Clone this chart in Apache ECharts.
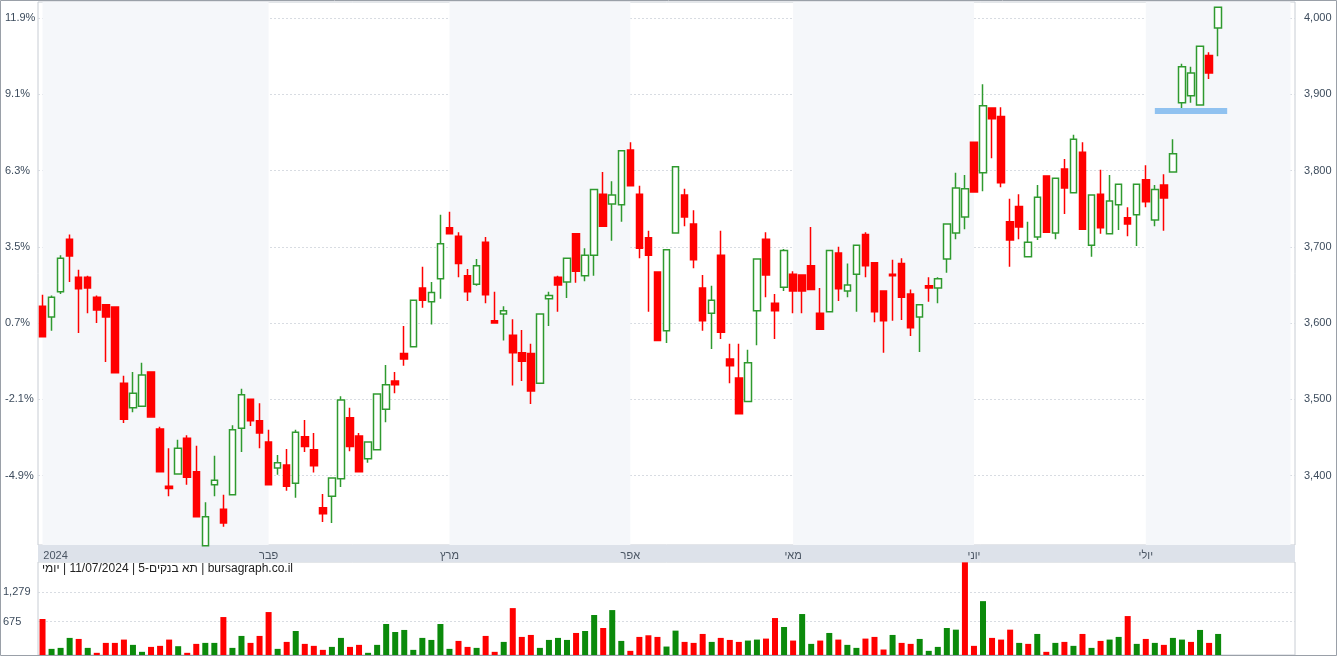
<!DOCTYPE html>
<html>
<head>
<meta charset="utf-8">
<script src="https://cdn.jsdelivr.net/npm/echarts@6/dist/echarts.min.js"></script>
<style>
  html, body { margin: 0; padding: 0; background: #fff; }
  #chart { width: 1337px; height: 656px; }
</style>
</head>
<body>
<div id="chart"></div>
<script>
// נתוני נרות יומיים - תא בנקים-5
var opens = [3622,3608,3641,3710,3660,3660,3634,3624,3621,3521, 3489,3491,3536,3461,3386,3402,3449,3405,3308,3388,
  3356,3375,3462,3500,3472,3444,3410,3414,3390,3451, 3434,3358,3373,3396,3476,3452,3422,3434,3487,3524,
  3560,3569,3646,3628,3658,3725,3714,3662,3651,3706, 3603,3612,3584,3561,3560,3521,3632,3660,3654,3717,
  3662,3689,3769,3756,3755,3827,3769,3712,3667,3590, 3718,3768,3730,3646,3613,3689,3553,3528,3497,3616,
  3710,3626,3647,3664,3663,3675,3613,3615,3692,3642, 3664,3716,3679,3642,3664,3678,3638,3608,3649,3646,
  3684,3718,3739,3837,3797,3882,3871,3733,3753,3687, 3713,3793,3718,3802,3771,3824,3702,3769,3717,3755,
  3738,3742,3788,3735,3781,3798,3889,3898,3886,3951, 3987]
var closes = [3582,3634,3685,3688,3645,3646,3617,3608,3535,3474, 3508,3532,3477,3405,3383,3436,3398,3346,3346,3394,
  3338,3460,3506,3472,3456,3388,3417,3386,3457,3438, 3413,3350,3397,3499,3438,3405,3444,3507,3519,3519,
  3553,3630,3630,3640,3704,3717,3678,3641,3675,3637, 3600,3616,3561,3550,3511,3612,3636,3650,3685,3668,
  3689,3775,3727,3768,3826,3780,3698,3689,3577,3696, 3805,3739,3683,3603,3630,3588,3544,3481,3548,3684,
  3663,3616,3695,3642,3642,3644,3592,3695,3645,3650, 3702,3675,3615,3603,3662,3634,3594,3624,3646,3658,
  3730,3777,3776,3772,3885,3868,3784,3709,3726,3706, 3765,3719,3790,3777,3841,3723,3768,3725,3760,3782,
  3730,3782,3759,3775,3764,3822,3936,3928,3963,3928, 4014]
var lows = [3582,3590,3638,3654,3587,3613,3600,3549,3535,3469, 3483,3491,3477,3405,3373,3402,3388,3346,3308,3373,
  3333,3375,3431,3465,3436,3388,3401,3380,3371,3431, 3404,3339,3338,3385,3432,3405,3417,3434,3470,3508,
  3544,3569,3620,3598,3632,3717,3660,3629,3649,3626, 3600,3577,3518,3524,3494,3520,3596,3615,3633,3653,
  3655,3662,3727,3708,3733,3780,3685,3615,3577,3574, 3718,3727,3672,3590,3566,3579,3521,3481,3497,3571,
  3634,3579,3642,3613,3613,3644,3592,3615,3629,3634, 3615,3660,3601,3561,3603,3604,3583,3562,3628,3626,
  3666,3710,3723,3771,3773,3816,3778,3674,3710,3687, 3709,3719,3710,3743,3771,3722,3687,3717,3717,3722,
  3714,3701,3752,3727,3721,3798,3875,3889,3886,3920, 3950]
var highs = [3637,3636,3689,3716,3670,3662,3636,3625,3622,3531, 3536,3548,3536,3464,3436,3447,3453,3439,3365,3426,
  3375,3466,3514,3500,3495,3460,3427,3435,3460,3473, 3456,3376,3397,3504,3489,3456,3444,3507,3545,3536,
  3596,3630,3674,3654,3742,3746,3719,3671,3684,3713, 3641,3622,3605,3591,3573,3612,3641,3662,3685,3717,
  3698,3775,3798,3786,3826,3837,3780,3721,3667,3696, 3805,3776,3748,3663,3649,3721,3573,3573,3565,3684,
  3719,3638,3697,3668,3663,3726,3646,3695,3700,3678, 3702,3719,3679,3642,3683,3685,3644,3624,3660,3660,
  3730,3797,3794,3837,3913,3882,3883,3763,3769,3733, 3781,3793,3790,3815,3847,3837,3768,3801,3794,3782,
  3752,3782,3807,3781,3795,3841,3940,3936,3963,3955, 4014]
var volumes = [728,124,144,346,325,144,44,245,245,312, 205,64,164,185,312,178,44,225,245,245,
  768,144,386,245,386,869,124,265,486,225, 185,104,164,346,164,205,44,205,627,466,
  507,104,346,305,627,124,285,164,144,386, 64,265,949,366,406,144,305,346,305,446,
  486,809,547,909,285,84,366,399,366,171, 493,265,245,426,265,346,305,265,292,312,
  332,748,567,292,829,225,292,446,312,205, 144,332,366,111,406,245,225,325,84,164,
  547,513,1875,185,1090,346,312,513,245,225, 426,64,245,265,185,426,144,285,312,366,
  788,225,325,245,205,346,312,265,507,245, 426]

// תוויות חודשים ותוויות צירים
var monthStarts = [0, 25, 45, 65, 83, 103, 122]
var monthNames = ['2024', 'פבר', 'מרץ', 'אפר', 'מאי', 'יוני', 'יולי']
var priceTicks = [3400, 3500, 3600, 3700, 3800, 3900, 4000]
var pctTicks = [-4.9, -2.1, 0.7, 3.5, 6.3, 9.1, 11.9]
var volTicks = [675, 1279]
var supportLevel = 3879
var totalSlots = 139

var categories = []
for (var i = 0; i < totalSlots; i++) categories.push(String(i))

var candleData = opens.map(function (o, i) { return [o, closes[i], lows[i], highs[i]] })
var volData = volumes.map(function (v, i) {
    var up = i === 0 ? closes[0] >= opens[0] : closes[i] >= closes[i - 1]
    return { value: v, itemStyle: { color: up ? '#0b8a0b' : '#ff0000' } }
})

// רקע מוצלל לחודשים לסירוגין
var shaded = []
for (var m = 0; m < monthStarts.length; m += 2) {
    var end = m + 1 < monthStarts.length ? monthStarts[m + 1] : totalSlots - 1
    shaded.push([{ xAxis: categories[monthStarts[m]] }, { xAxis: categories[end] }])
}

var pMin = 3309, pMax = 4021
function toPct (p) { return -4.9 + (p - 3400) * 16.8 / 600 }

var labelColor = '#3c4b5c'
var gridLine = { show: true, lineStyle: { color: '#d8dce2', type: [2, 2] } }

var myChart = echarts.init(document.getElementById('chart'))
var option = {
    animation: false,
    backgroundColor: '#fff',
    grid: [
        { left: 38, width: 1257, top: 2, height: 543, show: true, borderColor: '#c8cdd4', backgroundColor: 'transparent' },
        { left: 38, width: 1257, top: 562, height: 93, show: true, borderColor: '#c8cdd4' }
    ],
    xAxis: [
        {
            type: 'category', gridIndex: 0, data: categories, boundaryGap: true,
            axisLine: { show: false }, axisTick: { show: false }, splitLine: { show: false },
            axisLabel: {
                interval: 0, margin: 5, color: '#4a5563', fontSize: 11, fontFamily: 'Arial, Liberation Sans',
                formatter: function (v, idx) {
                    var k = monthStarts.indexOf(idx)
                    if (k < 0) return ''
                    return k === 0 ? '{a|' + monthNames[k] + '}' : monthNames[k]
                },
                rich: { a: { padding: [0, 0, 0, 26], color: '#4a5563', fontSize: 11 } }
            }
        },
        {
            type: 'category', gridIndex: 1, data: categories, boundaryGap: true,
            axisLine: { show: false }, axisTick: { show: false }, axisLabel: { show: false }
        }
    ],
    yAxis: [
        {
            type: 'value', gridIndex: 0, position: 'right', min: pMin, max: pMax,
            axisLine: { show: false }, axisTick: { show: false, customValues: priceTicks },
            splitLine: gridLine,
            axisLabel: {
                customValues: priceTicks, color: labelColor, fontSize: 11, margin: 9,
                fontFamily: 'Arial, Liberation Sans',
                formatter: function (v) { return v.toLocaleString('en-US') }
            }
        },
        {
            type: 'value', gridIndex: 0, position: 'left', min: toPct(pMin), max: toPct(pMax),
            axisLine: { show: false }, axisTick: { show: false, customValues: pctTicks }, splitLine: { show: false },
            axisLabel: {
                customValues: pctTicks, color: labelColor, fontSize: 11, margin: 33, align: 'left',
                fontFamily: 'Arial, Liberation Sans',
                formatter: function (v) { return (Math.round(v * 10) / 10).toFixed(1) + '%' }
            }
        },
        {
            type: 'value', gridIndex: 1, min: 0, max: 1882,
            axisLine: { show: false }, axisTick: { show: false, customValues: volTicks },
            splitLine: gridLine,
            axisLabel: {
                customValues: volTicks, color: labelColor, fontSize: 11, margin: 35, align: 'left',
                fontFamily: 'Arial, Liberation Sans',
                formatter: function (v) { return v.toLocaleString('en-US') }
            }
        }
    ],
    graphic: [
        { type: 'rect', shape: { x: 38, y: 545, width: 1257, height: 17 }, style: { fill: '#dde2ea' }, z: 0 },
        { type: 'rect', shape: { x: 0.5, y: 0.5, width: 1336, height: 655 }, style: { fill: 'none', stroke: '#9aa0a8', lineWidth: 1 }, z: 10 },
        { type: 'text', left: 50, top: 529, z: 1,
          style: { text: 'SPONSER', fill: 'rgba(170,160,230,0.35)', font: 'bold 20px Arial' } },
        { type: 'text', left: 42, top: 563, z: 5,
          style: { text: '\u200Eיומי\u200E | 11/07/2024 | 5-תא בנקים\u200E | bursagraph.co.il', fill: '#222', font: '12px Arial, Liberation Sans' } }
    ],
    series: [
        {
            type: 'candlestick', xAxisIndex: 0, yAxisIndex: 0, data: candleData, barWidth: 7,
            itemStyle: { color: '#ffffff', color0: '#ff0000', borderColor: '#2f9a2f', borderColor0: '#ff0000', borderWidth: 1.5 },
            markArea: { silent: true, itemStyle: { color: '#f5f7fa' }, data: shaded },
            markLine: {
                silent: true, symbol: ['none', 'none'], label: { show: false },
                lineStyle: { color: '#90c2f0', width: 6, type: 'solid' },
                data: [[{ coord: ['123', supportLevel] }, { coord: ['131', supportLevel] }]]
            }
        },
        {
            type: 'line', xAxisIndex: 0, yAxisIndex: 1, data: [], silent: true
        },
        {
            type: 'bar', xAxisIndex: 1, yAxisIndex: 2, data: volData, barWidth: 6
        }
    ]
}
myChart.setOption(option)
</script>
</body>
</html>
